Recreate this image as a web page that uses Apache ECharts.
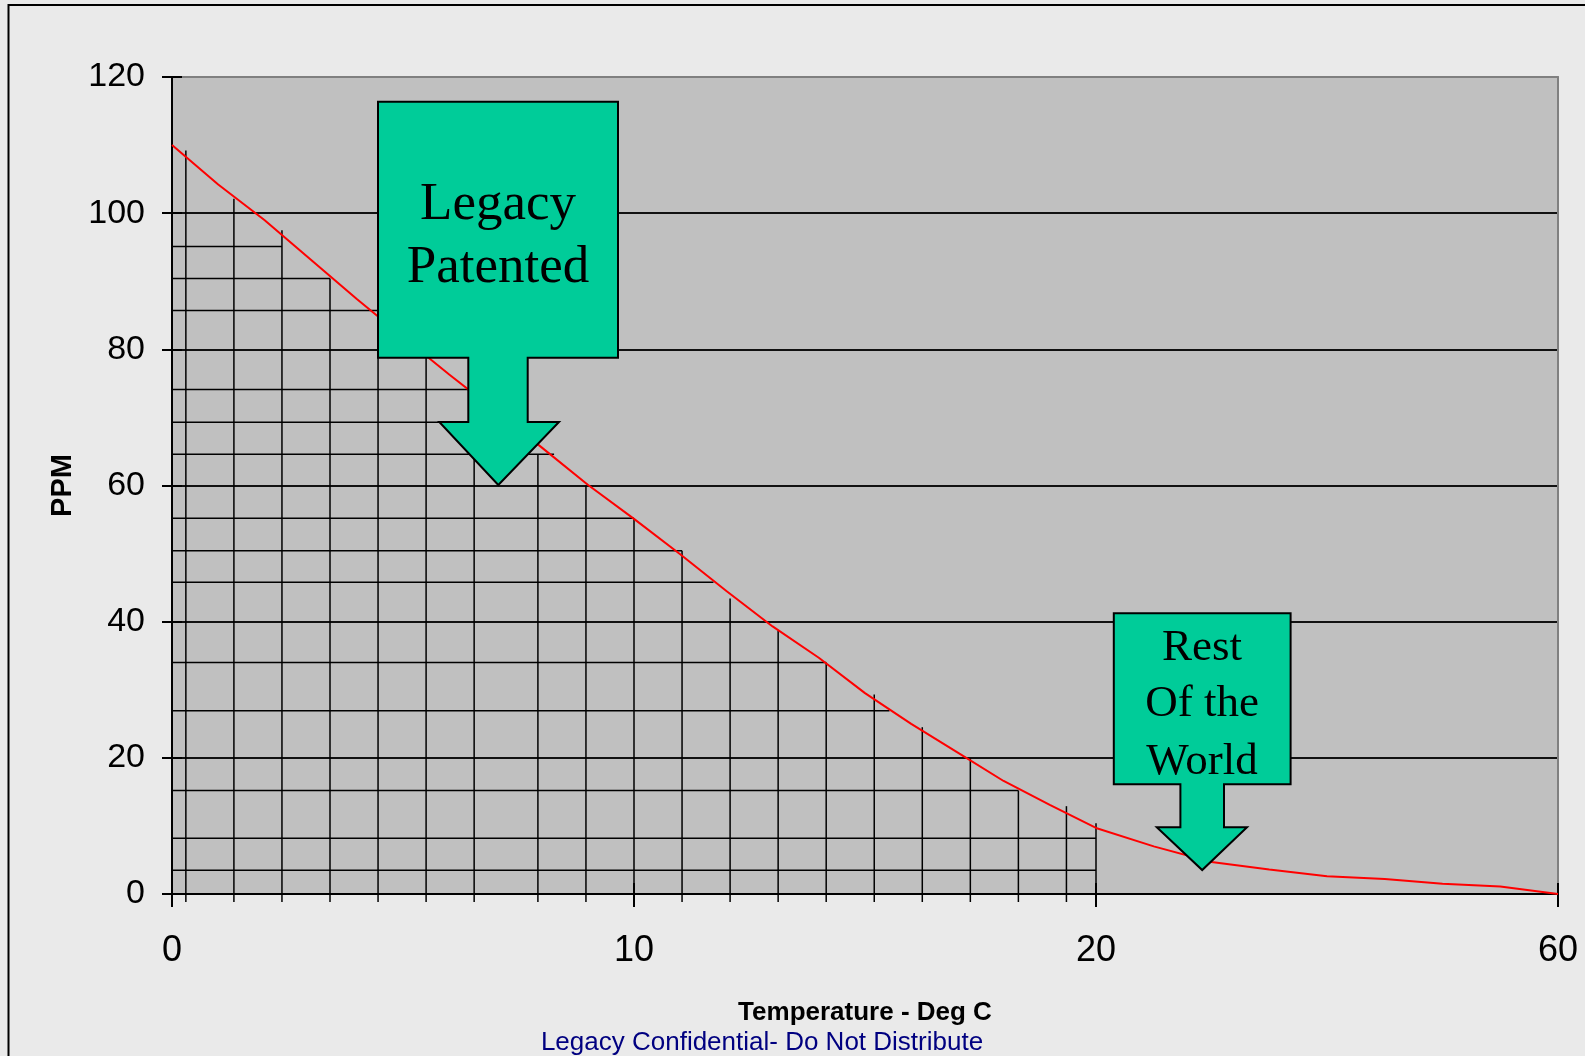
<!DOCTYPE html>
<html><head><meta charset="utf-8">
<script src="https://cdn.jsdelivr.net/npm/echarts@6/dist/echarts.min.js"></script>
<style>html,body{margin:0;padding:0;background:#EAEAEA}#c{width:1585px;height:1056px}</style>
</head><body><div id="c"></div>
<script>
// ---- data ----
const temps = [0,1,2,3,4,5,6,7,8,9,10,11,12,13,14,15,16,17,18,19,20,25,30,35,40,45,50,55,60];
const ppm   = [110,104.2,99,93.2,87.4,81.8,76.3,71,65.6,60.1,55.1,49.9,44.5,39.3,34.7,29.5,25,20.8,16.6,13.1,9.7,7.0,4.7,3.6,2.6,2.2,1.5,1.1,0];
const xTickLabels = ['0','10','20','60'];
const yMin = 0, yMax = 120, yStep = 20;
// hatch grid under the curve (axis position units)
const hatchVX   = [0.3,1.34,2.38,3.42,4.46,5.5,6.54,7.92,8.96,10,11.04,12.08,13.12,14.16,15.2,16.24,17.28,18.32,19.36,20];
const hatchVTop = [109.2,102.1,97.5,90.4,85.7,79,72,64.6,60.0,55.2,50.4,43.4,38.7,34.0,29.3,24.5,19.9,15.2,12.9,10.4];
const hatchHY   = [95.1,90.4,85.7,74.1,69.3,64.6,55.2,50.4,45.8,34.0,26.9,15.2,8.2,3.5];
const hatchHEnd = [2.38,3.42,4.46,6.41,7.1,8.27,10,11.04,11.72,14.16,15.53,18.32,20,20];

// broken axis: 0..20 linear, 20..60 compressed to one third of the width
function axisPos(t){ return t <= 20 ? t : 20 + (t - 20) / 4; }

const NARROW = "'Liberation Sans Narrow','Arial Narrow','Liberation Sans',Arial,sans-serif";
const SANS = "'Liberation Sans',Arial,sans-serif";
const SERIF = "'Liberation Serif','Times New Roman',serif";

const chart = echarts.init(document.getElementById('c'));

const xBase = {type:'value', min:0, max:30, interval:10, gridIndex:0};
const yBase = {type:'value', min:yMin, max:yMax, interval:yStep, gridIndex:0};

function callout(points, lines, fontSize){
  const els = [{type:'polygon', z:100, shape:{points:points},
    style:{fill:'#00CC99', stroke:'#000', lineWidth:2, lineJoin:'miter'}}];
  lines.forEach(l => els.push({type:'text', z:101,
    style:{text:l[0], x:l[1], y:l[2], align:'center', verticalAlign:'middle',
      font: fontSize + 'px ' + SERIF, fill:'#000'}}));
  return els;
}

const legacyCallout = callout(
  [[378,101.7],[618,101.7],[618,357.7],[527.7,357.7],[527.7,422],[559,422],[498.3,485],
   [439.3,422],[468.3,422],[468.3,357.7],[378,357.7]],
  [['Legacy',498,205],['Patented',498,268.5]], 53);
const rowCallout = callout(
  [[1113.8,613.3],[1290.6,613.3],[1290.6,784.3],[1224,784.3],[1224,827.3],[1247,827.3],[1202.2,870],
   [1156.8,827.3],[1180.4,827.3],[1180.4,784.3],[1113.8,784.3]],
  [['Rest',1202,647.7],['Of the',1202,704],['World',1202,761.7]], 45);

const option = {
  animation:false,
  backgroundColor:'#EAEAEA',
  grid:{left:172, top:77, right:27, bottom:162, show:true, backgroundColor:'#C0C0C0', borderWidth:0, outerBoundsMode:'none'},
  xAxis:[
    Object.assign({}, xBase, {position:'bottom',
      axisLine:{show:true, onZero:false, lineStyle:{color:'#000', width:2}},
      axisTick:{show:true, length:13, lineStyle:{color:'#000', width:2}},
      axisLabel:{show:true, margin:39, color:'#000', fontSize:36, fontFamily:NARROW,
        formatter: v => xTickLabels[Math.round(v / 10)]},
      splitLine:{show:false},
      name:'Temperature - Deg C', nameLocation:'middle', nameGap:106,
      nameTextStyle:{color:'#000', fontSize:26, fontWeight:'bold', fontFamily:SANS}}),
    Object.assign({}, xBase, {position:'bottom',
      axisLine:{show:false}, axisTick:{show:true, inside:true, length:11, lineStyle:{color:'#000', width:2}},
      axisLabel:{show:false}, splitLine:{show:false}}),
    Object.assign({}, xBase, {position:'top',
      axisLine:{show:true, onZero:false, lineStyle:{color:'#808080', width:2}},
      axisTick:{show:false}, axisLabel:{show:false}, splitLine:{show:false}})
  ],
  yAxis:[
    Object.assign({}, yBase, {position:'left',
      axisLine:{show:true, onZero:false, lineStyle:{color:'#000', width:2}},
      axisTick:{show:true, length:10, lineStyle:{color:'#000', width:2}},
      axisLabel:{show:true, margin:27, color:'#000', fontSize:34, fontFamily:NARROW},
      splitLine:{show:true, showMinLine:false, showMaxLine:false, lineStyle:{color:'#111', width:2}},
      name:'PPM', nameLocation:'middle', nameGap:94, nameRotate:90,
      nameTextStyle:{color:'#000', fontSize:29, fontWeight:'bold', fontFamily:SANS}}),
    Object.assign({}, yBase, {position:'left',
      axisLine:{show:false}, axisTick:{show:true, inside:true, length:10, lineStyle:{color:'#000', width:2}},
      axisLabel:{show:false}, splitLine:{show:false}}),
    Object.assign({}, yBase, {position:'right',
      axisLine:{show:true, onZero:false, lineStyle:{color:'#808080', width:2}},
      axisTick:{show:false}, axisLabel:{show:false}, splitLine:{show:false}})
  ],
  series:[
    {type:'custom', name:'hatchV', xAxisIndex:0, yAxisIndex:0, z:3, clip:false,
      data: hatchVX.map((x,i)=>[x, hatchVTop[i]]),
      encode:{x:0, y:1},
      renderItem:(params, api)=>{
        const top = api.coord([api.value(0), api.value(1)]);
        const base = api.coord([api.value(0), 0]);
        return {type:'line', shape:{x1:top[0], y1:top[1], x2:base[0], y2:base[1]+8},
          style:{stroke:'#000', lineWidth:1.5}};
      }},
    {type:'custom', name:'hatchH', xAxisIndex:0, yAxisIndex:0, z:3, clip:false,
      data: hatchHY.map((y,i)=>[hatchHEnd[i], y]),
      encode:{x:0, y:1},
      renderItem:(params, api)=>{
        const a = api.coord([0, api.value(1)]);
        const b = api.coord([api.value(0), api.value(1)]);
        return {type:'line', shape:{x1:a[0]-1, y1:a[1], x2:b[0], y2:b[1]},
          style:{stroke:'#000', lineWidth:1.5}};
      }},
    {type:'line', name:'PPM', xAxisIndex:0, yAxisIndex:0, z:5,
      data: temps.map((t,i)=>[axisPos(t), ppm[i]]),
      symbol:'none', smooth:false,
      lineStyle:{color:'#FF0000', width:2}}
  ],
  graphic:[
    {type:'rect', z:90, shape:{x:8.5, y:5, width:1700, height:1200},
      style:{fill:null, stroke:'#000', lineWidth:2}},
    ...legacyCallout,
    ...rowCallout,
    {type:'text', z:101, style:{text:'Legacy Confidential- Do Not Distribute', x:762, y:1043,
      align:'center', verticalAlign:'middle', font:'26px ' + SANS, fill:'#000080'}}
  ]
};
chart.setOption(option);
</script>
</body></html>
